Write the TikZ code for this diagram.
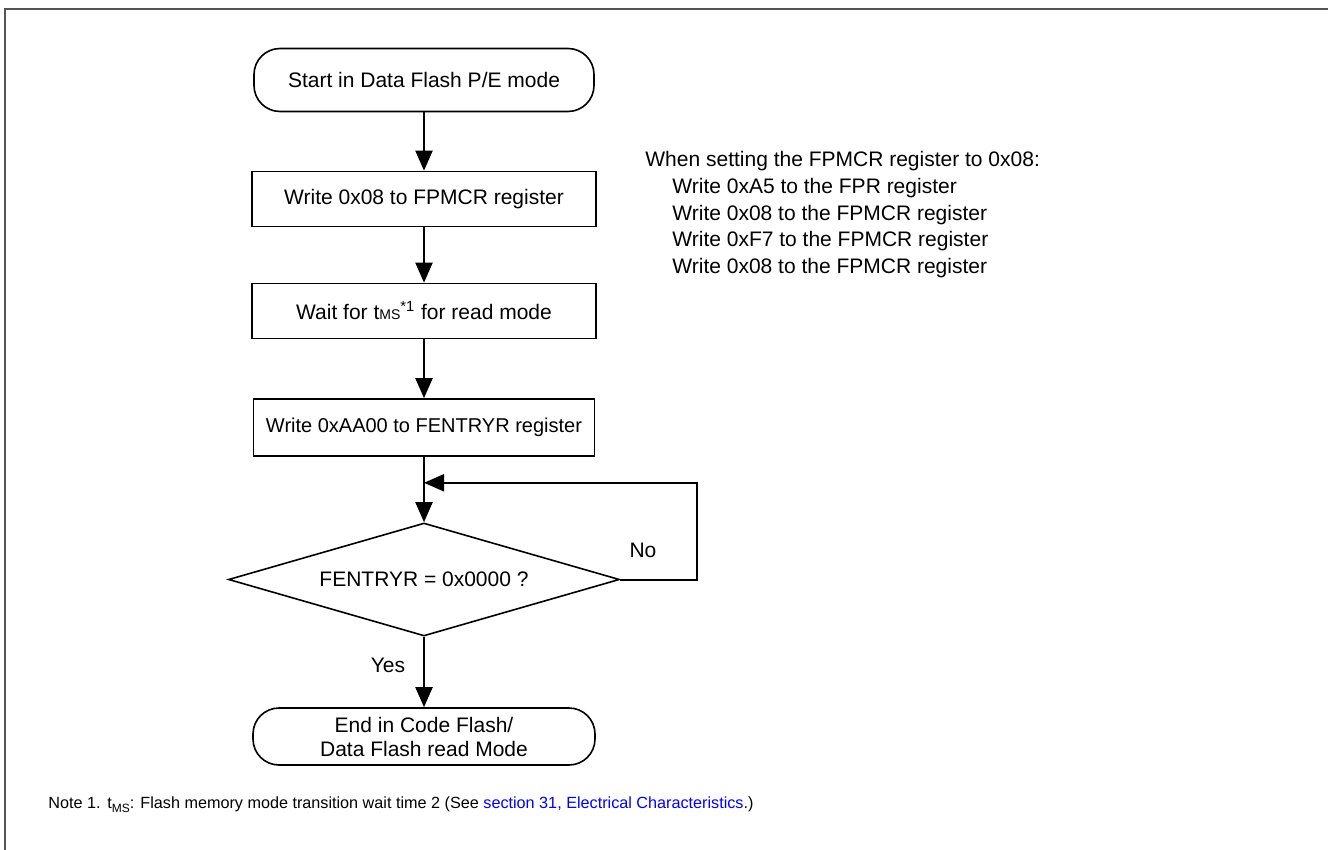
\documentclass[tikz,border=0pt]{standalone}
\usepackage{fontspec}
\setmainfont{Liberation Sans}
\usetikzlibrary{arrows.meta,positioning,shapes.geometric}
\definecolor{framegray}{HTML}{555555}
\definecolor{linkblue}{HTML}{0000FF}
\tikzset{
  term/.style={draw, line width=0.8pt, rounded corners=13pt, align=center,
               inner sep=0pt, minimum width=170pt, minimum height=30pt},
  procbox/.style={draw, line width=0.8pt, align=center, inner sep=0pt,
                  minimum width=172pt, minimum height=27.5pt},
  decbox/.style={draw, line width=0.8pt, diamond, aspect=3.46, inner sep=0pt,
                 minimum width=195.5pt, minimum height=56.5pt},
  flow/.style={line width=1pt, -{Triangle[length=10pt,width=8.5pt]}},
  sidetxt/.style={anchor=base west, inner sep=0pt},
}
\begin{document}
\begin{tikzpicture}[x=0.5pt, y=-0.5pt, font=\fontsize{10.5}{12}\selectfont]
    \useasboundingbox (0,0) rectangle (1328,850);
    \draw[framegray, line width=1pt] (5,850) -- (5,9.5) -- (1328,9.5);
    \node[term, minimum height=31.5pt] (start) at (424,80) {Start in Data Flash P/E mode};
    \node[procbox] (wrfpm) at (424,199) {Write 0x08 to FPMCR register};
    \node[procbox] (waitms) at (424,311)
      {Wait for t{\fontsize{7}{8}\selectfont MS}\textsuperscript{*1} for read mode};
    \node[procbox, minimum width=170.5pt, minimum height=28.5pt, font=\fontsize{10}{12}\selectfont]
      (wrfent) at (424,427.5) {Write 0xAA00 to FENTRYR register};
    \node[decbox] (chk) at (424,579.5) {FENTRYR = 0x0000 ?};
    \node[term, minimum width=171pt, minimum height=28.5pt] (fin) at (424,736.5)
      {End in Code Flash/\\Data Flash read Mode};
    \draw[flow] (start) -- (wrfpm);
    \draw[flow] (wrfpm) -- (waitms);
    \draw[flow] (waitms) -- (wrfent);
    \draw[flow] (wrfent) -- (chk);
    \coordinate (jn) at ([yshift=-13pt]wrfent.south);
    \coordinate (loopc) at ([xshift=38.5pt]chk.east);
    \draw[flow] (chk.east) -- (loopc) |- (jn);
    \node (nolbl) at (643,550) {No};
    \draw[flow] (chk) -- (fin);
    \node (yeslbl) at (388,665) {Yes};
    % FPMCR write sequence
    \node[sidetxt] (fpmseq) at (645,167) {When setting the FPMCR register to 0x08:};
    \foreach \txt [count=\i] in {Write 0xA5 to the FPR register,
        Write 0x08 to the FPMCR register, Write 0xF7 to the FPMCR register,
        Write 0x08 to the FPMCR register}
      { \node[sidetxt] (fpmstep\i) at (672,{167+26.6*\i}) {\txt}; }
    % note
    \node[sidetxt, font=\fontsize{8.1}{10}\selectfont] (notenum) at (48,808) {Note 1.};
    \node[sidetxt, font=\fontsize{8.1}{10}\selectfont] (notetxt) at (107,808)
      {t\raisebox{-2pt}{\fontsize{6}{7}\selectfont MS}: Flash memory mode transition wait time 2
       (See \textcolor{linkblue}{section 31, Electrical Characteristics}.)};
\end{tikzpicture}
\end{document}
